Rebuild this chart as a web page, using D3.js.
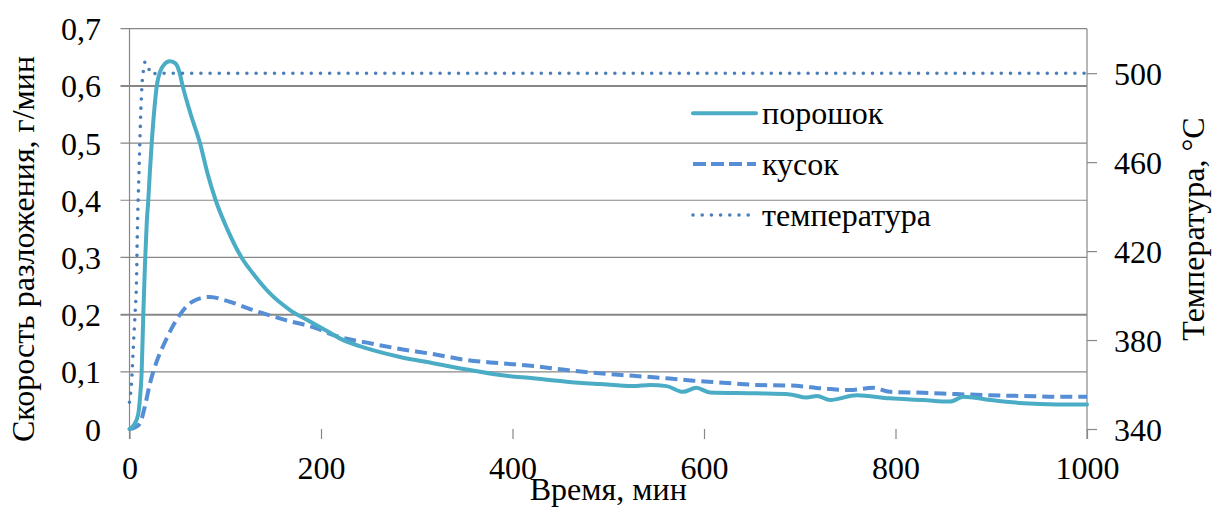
<!DOCTYPE html>
<html>
<head>
<meta charset="utf-8">
<script src="https://cdn.jsdelivr.net/npm/d3@7"></script>
<style>
  html, body { margin: 0; padding: 0; background: #fff; }
  svg { display: block; }
  svg text { font-family: "Liberation Serif", Tinos, "Times New Roman", Times, "DejaVu Serif", serif; }
</style>
</head>
<body>
<svg id="chart" width="1213" height="508"></svg>
<script>
// Decomposition rate (g/min) of powder vs lump sample, and furnace temperature.
const seriesNames = ["порошок", "кусок", "температура"];

// [time, rate]
const powder = [
  [0, 0], [5, 0.008], [9, 0.025], [11, 0.055], [12.7, 0.1], [14.4, 0.2], [16.2, 0.29],
  [18, 0.36], [19.6, 0.4], [21.3, 0.45], [23.2, 0.5], [26, 0.56], [28.5, 0.6], [32, 0.625],
  [36, 0.637], [42, 0.643], [47.5, 0.64], [52, 0.625], [55.5, 0.6], [64, 0.55], [73.6, 0.5],
  [81, 0.45], [90, 0.4], [102, 0.35], [117, 0.3], [129, 0.272], [146.7, 0.237], [167.6, 0.208],
  [188.5, 0.188], [207.6, 0.17], [220, 0.158], [248, 0.141], [282.5, 0.126], [317, 0.115],
  [352, 0.104], [387, 0.0944], [421.7, 0.0886], [456.6, 0.0827], [491, 0.0786], [526, 0.075],
  [543.6, 0.077], [561, 0.075], [578, 0.065], [592, 0.072], [606, 0.064], [655, 0.0623],
  [690, 0.0605], [707, 0.055], [718, 0.0577], [731.6, 0.0507], [759.5, 0.059], [794, 0.0536],
  [829, 0.0507], [857, 0.048], [871, 0.0565], [898.7, 0.0507], [933.5, 0.045], [968, 0.043],
  [1000, 0.043]
];

const lump = [
  [0, 0], [6, 0.003], [11, 0.01], [16, 0.039], [21.4, 0.08], [28.4, 0.118], [37, 0.152],
  [44, 0.176], [52.7, 0.2], [66, 0.223], [84, 0.231], [100, 0.225], [129, 0.208], [164, 0.19],
  [195.5, 0.176], [213, 0.164], [248, 0.151], [282.5, 0.14], [317, 0.131], [352, 0.1206],
  [387, 0.115], [421.7, 0.11], [456.6, 0.103], [491, 0.0973], [526, 0.093], [561, 0.0886],
  [589, 0.0844], [620, 0.081], [655, 0.077], [690, 0.076], [724.6, 0.071], [752, 0.068],
  [777, 0.072], [794, 0.065], [829, 0.0634], [864, 0.061], [898.7, 0.059], [933.5, 0.0577],
  [968.4, 0.0565], [1000, 0.0565]
];

// [time, °C]
const temperature = [
  [0, 352], [2.3, 362], [4, 377], [5.7, 391], [7.5, 410], [8.1, 426], [9.9, 455], [12, 485],
  [13.4, 497], [14.4, 500.7], [16.2, 505], [19.6, 502.5], [23.2, 499.3], [28.4, 500],
  [1000, 500]
];

const xTicks = [0, 200, 400, 600, 800, 1000];
const yTicks = [0, 0.1, 0.2, 0.3, 0.4, 0.5, 0.6, 0.7];
const y2Ticks = [340, 380, 420, 460, 500];

const FONT = '"Liberation Serif", Tinos, "Times New Roman", Times, "DejaVu Serif", serif';

const svg = d3.select("#chart");
const plotLeft = 129.5, plotRight = 1087, plotTop = 28.7, plotBottom = 429;

const x = d3.scaleLinear().domain([0, 1000]).range([plotLeft, plotRight]);
const y = d3.scaleLinear().domain([0, 0.7]).range([plotBottom, plotTop]);
const y2 = d3.scaleLinear().domain([340, 520]).range([plotBottom, plotTop]);

const gridColor = "#878787";
const fmt = v => v === 0 ? "0" : d3.format(".1f")(v).replace(".", ",");

// horizontal gridlines (extend left as tick marks)
svg.append("g").selectAll("line")
  .data(yTicks.filter(d => d > 0))
  .join("line")
  .attr("x1", plotLeft - 9).attr("x2", plotRight)
  .attr("y1", d => y(d)).attr("y2", d => y(d))
  .attr("stroke", gridColor)
  .attr("stroke-width", d => (Math.abs(d - 0.2) < 1e-9 || Math.abs(d - 0.6) < 1e-9) ? 2 : 1.2);

// vertical axis lines
[plotLeft, plotRight].forEach(px => {
  svg.append("line")
    .attr("x1", px).attr("x2", px).attr("y1", plotTop).attr("y2", plotBottom + 10)
    .attr("stroke", gridColor).attr("stroke-width", 1.2);
});

function styleLabels(sel) {
  sel.attr("font-size", 32).attr("fill", "#000").attr("font-family", FONT);
}

// bottom tick marks
const xAxis = d3.axisBottom(x).tickValues(xTicks).tickSize(10).tickSizeOuter(0).tickFormat(d3.format("d"));
const gx = svg.append("g").attr("transform", `translate(0,${plotBottom})`).call(xAxis)
  .attr("font-family", FONT);
gx.select(".domain").remove();
gx.selectAll(".tick line").attr("stroke", gridColor).attr("stroke-width", 1.2);
gx.selectAll(".tick text").attr("y", 50).attr("dy", 0).call(styleLabels);

// left tick labels
const yAxis = d3.axisLeft(y).tickValues(yTicks).tickSize(0).tickFormat(fmt);
const gy = svg.append("g").attr("transform", `translate(${plotLeft},0)`).call(yAxis)
  .attr("font-family", FONT);
gy.select(".domain").remove();
gy.selectAll(".tick text").attr("x", -28.5).attr("dy", 11).call(styleLabels);

// right temperature axis
const y2Axis = d3.axisRight(y2).tickValues(y2Ticks).tickSize(10).tickFormat(d3.format("d"));
const gy2 = svg.append("g").attr("transform", `translate(${plotRight},0)`).call(y2Axis)
  .attr("font-family", FONT);
gy2.select(".domain").remove();
gy2.selectAll(".tick line").attr("stroke", gridColor).attr("stroke-width", 1.2);
gy2.selectAll(".tick text").attr("x", 27).attr("dy", 11).call(styleLabels);

// axis titles
svg.append("text")
  .attr("transform", "translate(34,249) rotate(-90)")
  .attr("text-anchor", "middle").call(styleLabels)
  .text("Скорость разложения, г/мин");

svg.append("text")
  .attr("transform", "translate(1204,229) rotate(-90)")
  .attr("text-anchor", "middle").call(styleLabels)
  .text("Температура, °C");

svg.append("text")
  .attr("x", (plotLeft + plotRight) / 2).attr("y", 500)
  .attr("text-anchor", "middle").call(styleLabels)
  .text("Время, мин");

// series
const styles = [
  { color: "#4BACC6", width: 4, dash: null, cap: "round" },
  { color: "#558ED5", width: 4, dash: "12 6", cap: "butt" },
  { color: "#4A7EBB", width: 3.6, dash: "0 9.2", cap: "round" }
];

const rateLine = d3.line().x(d => x(d[0])).y(d => y(d[1])).curve(d3.curveMonotoneX);
const tempLine = d3.line().x(d => x(d[0])).y(d => y2(d[1])).curve(d3.curveMonotoneX);

const plot = svg.append("g");
[[lump, rateLine, styles[1]], [powder, rateLine, styles[0]], [temperature, tempLine, styles[2]]]
  .forEach(([data, gen, s]) => {
    plot.append("path")
      .attr("d", gen(data))
      .attr("fill", "none")
      .attr("stroke", s.color)
      .attr("stroke-width", s.width)
      .attr("stroke-linecap", s.cap)
      .attr("stroke-linejoin", "round")
      .attr("stroke-dasharray", s.dash);
  });

// legend
const legendY = [113.3, 164, 215];
const legend = svg.append("g");
seriesNames.forEach((name, i) => {
  const s = styles[i];
  legend.append("line")
    .attr("x1", 693).attr("x2", 756)
    .attr("y1", legendY[i]).attr("y2", legendY[i])
    .attr("stroke", s.color).attr("stroke-width", s.width)
    .attr("stroke-linecap", s.cap)
    .attr("stroke-dasharray", i === 1 ? "13 5" : s.dash);
  legend.append("text")
    .attr("x", 762).attr("y", legendY[i] + 11)
    .call(styleLabels)
    .text(name);
});
</script>
</body>
</html>
